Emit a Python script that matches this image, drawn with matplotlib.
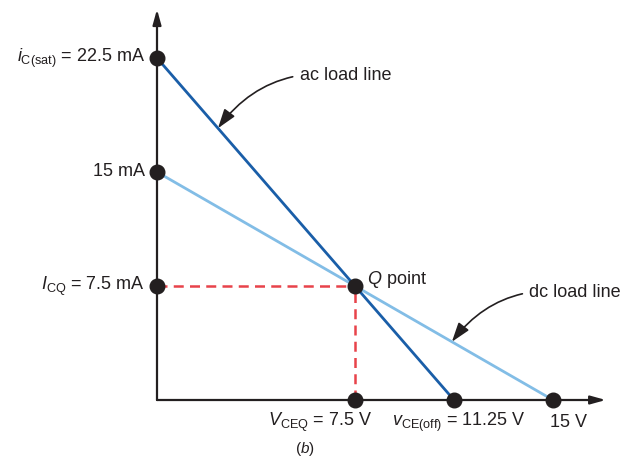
import numpy as np
import matplotlib
matplotlib.use('Agg')
import matplotlib.pyplot as plt

plt.rcParams['font.family'] = ['Liberation Sans', 'DejaVu Sans']
plt.rcParams['mathtext.fontset'] = 'custom'
plt.rcParams['mathtext.rm'] = 'Liberation Sans'
plt.rcParams['mathtext.it'] = 'Liberation Sans:italic'

# Load line data (V, mA)
ac_v = [0, 11.25]
ac_i = [22.5, 0]
dc_v = [0, 15]
dc_i = [15, 0]
q_v = 7.5
q_i = 7.5

# Points drawn as dots
dot_v = [0, 0, 0, 7.5, 7.5, 11.25, 15]
dot_i = [22.5, 15, 7.5, 7.5, 0, 0, 0]

y_labels = [r'$i_{\mathrm{C(sat)}}$ = 22.5 mA', '15 mA', r'$I_{\mathrm{CQ}}$ = 7.5 mA']
y_label_vals = [22.5, 15, 7.5]
x_labels = [r'$V_{\mathrm{CEQ}}$ = 7.5 V', r'$v_{\mathrm{CE(off)}}$ = 11.25 V', '15 V']
x_label_pos = [6.17, 11.44, 15.57]

txt = '#231f20'
ac_col = '#1a5ea8'
dc_col = '#82bde6'
red = '#e8434a'
fs = 13

fig = plt.figure(figsize=(6.32, 4.74), dpi=100)
ax = fig.add_axes([0, 0, 1, 1])
ax.set_xlim(-157 / 26.4, (632 - 157) / 26.4)
ax.set_ylim(-(474 - 400) / 15.2, 400 / 15.2)
ax.axis('off')

# axes with arrows
ax.annotate('', xy=(0, 25.7), xytext=(0, 0),
            arrowprops=dict(arrowstyle='-|>,head_length=0.9,head_width=0.25',
                            color=txt, lw=1.6, shrinkA=0, shrinkB=0))
ax.annotate('', xy=(17.0, 0), xytext=(0, 0),
            arrowprops=dict(arrowstyle='-|>,head_length=0.9,head_width=0.25',
                            color=txt, lw=1.6, shrinkA=0, shrinkB=0))

# Q point dashed lines
ax.plot([0, q_v], [q_i, q_i], color=red, lw=1.8, ls=(0, (4, 2.5)), zorder=2)
ax.plot([q_v, q_v], [0, q_i], color=red, lw=1.8, ls=(0, (4, 2.5)), zorder=2)

# load lines
ax.plot(dc_v, dc_i, color=dc_col, lw=2, zorder=3)
ax.plot(ac_v, ac_i, color=ac_col, lw=2, zorder=3)

ax.plot(dot_v, dot_i, 'o', color=txt, ms=10.5, zorder=5)

for lab, v in zip(y_labels, y_label_vals):
    ax.text(-0.45, v, lab, ha='right', va='center', fontsize=fs, color=txt)
for lab, v in zip(x_labels, x_label_pos):
    ax.text(v, -1.5, lab, ha='center', va='center', fontsize=fs, color=txt)

ax.text(7.95, 7.95, r'$Q$ point', ha='left', va='center', fontsize=fs, color=txt)
ax.text(5.6, -3.2, r'($b$)', ha='center', va='center', fontsize=11, color=txt)

arr = dict(arrowstyle='-|>,head_length=0.9,head_width=0.3', color=txt, lw=1.2,
           connectionstyle='arc3,rad=0.3', shrinkA=3, shrinkB=0)
ax.annotate('ac load line', xy=(2.31, 17.88), xytext=(5.4, 21.35),
            ha='left', va='center', fontsize=fs, color=txt, arrowprops=arr)
ax.annotate('dc load line', xy=(11.17, 3.83), xytext=(14.1, 7.05),
            ha='left', va='center', fontsize=fs, color=txt, arrowprops=arr)

fig.savefig('out.png', dpi=100)
